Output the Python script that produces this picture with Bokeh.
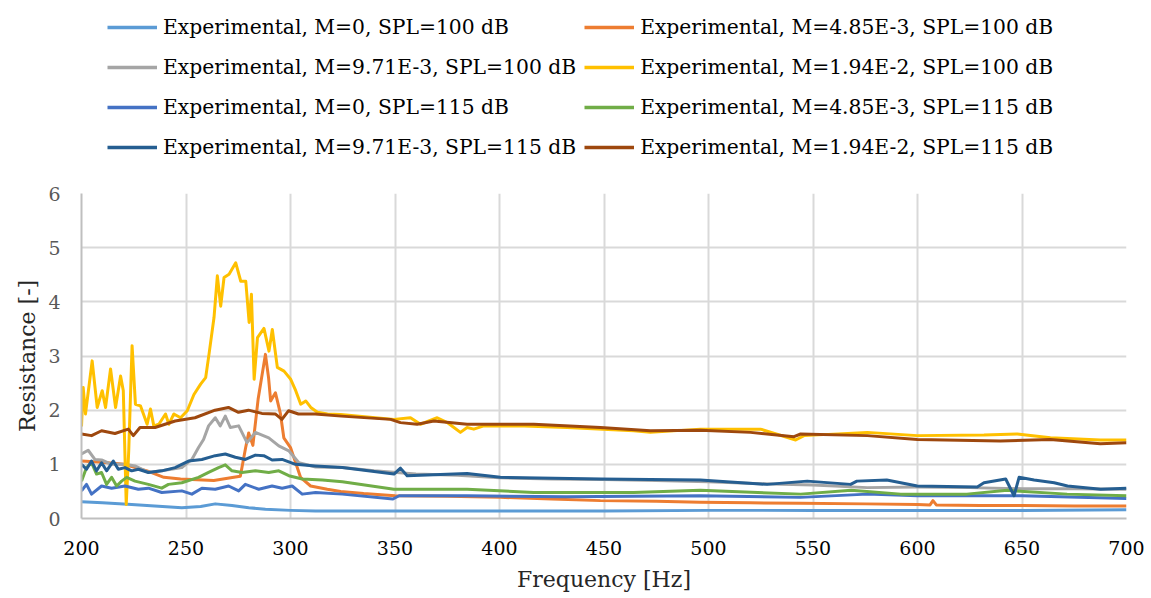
from bokeh.plotting import figure
from bokeh.layouts import column
from bokeh.models import Range1d, FixedTicker, Legend, LegendItem
from bokeh.embed import file_html
from bokeh.resources import INLINE

# ---------------- data ----------------
labels = [
    "Experimental, M=0, SPL=100 dB",
    "Experimental, M=4.85E-3, SPL=100 dB",
    "Experimental, M=9.71E-3, SPL=100 dB",
    "Experimental, M=1.94E-2, SPL=100 dB",
    "Experimental, M=0, SPL=115 dB",
    "Experimental, M=4.85E-3, SPL=115 dB",
    "Experimental, M=9.71E-3, SPL=115 dB",
    "Experimental, M=1.94E-2, SPL=115 dB",
]
colors = ["#5B9BD5", "#ED7D31", "#A5A5A5", "#FFC000",
          "#4472C4", "#70AD47", "#255E91", "#9E480E"]

f1 = [200, 210, 224, 235, 248, 257, 264, 272, 280, 288, 300, 312, 350, 400, 450, 500, 550, 600, 650, 700]
r1 = [0.31, 0.29, 0.26, 0.23, 0.20, 0.22, 0.27, 0.24, 0.20, 0.17, 0.15, 0.14, 0.14, 0.14, 0.14, 0.15, 0.15, 0.15, 0.15, 0.16]

f2 = [200, 210, 220.2, 231.4, 239.4, 247.4, 263.3, 272.9, 276, 278.5, 280, 282, 284.5, 288, 289.5, 290.5, 292.8, 295.2,
      296.8, 300, 304.8, 309.6, 317.6, 324, 335, 350, 375, 400.4, 425, 448.3, 475, 496, 520, 544, 575, 600, 606,
      607.4, 609, 630, 650, 675, 700]
r2 = [1.06, 1.04, 1.0, 0.88, 0.76, 0.73, 0.70, 0.76, 0.78, 1.30, 1.58, 1.35, 2.2, 3.03, 2.6, 2.17, 2.32, 1.93,
      1.49, 1.31, 0.76, 0.60, 0.54, 0.50, 0.46, 0.42, 0.41, 0.39, 0.36, 0.33, 0.32, 0.30, 0.29, 0.28, 0.27, 0.26, 0.25,
      0.33, 0.25, 0.24, 0.24, 0.23, 0.23]

f3 = [200, 203.2, 206.4, 209.6, 214.4, 220.8, 225.6, 232, 238.4, 248, 252.8, 256, 258.4, 260.8, 264, 266.4, 268.8,
      271.2, 275.2, 279.2, 283.2, 289.6, 294.4, 299.2, 304, 312, 324.8, 340, 360, 380, 400, 425, 450, 475, 500, 525,
      550, 576, 600, 625, 650, 675, 700]
r3 = [1.19, 1.26, 1.09, 1.08, 1.0, 1.0, 0.97, 0.85, 0.88, 0.94, 1.09, 1.31, 1.46, 1.71, 1.86, 1.71, 1.89,
      1.68, 1.71, 1.40, 1.59, 1.49, 1.34, 1.25, 1.03, 0.95, 0.94, 0.88, 0.82, 0.80, 0.75, 0.73, 0.72, 0.70, 0.68, 0.64,
      0.62, 0.57, 0.58, 0.57, 0.55, 0.55, 0.54]

f4 = [200, 200.8, 201.9, 205.1, 207.5, 209.9, 211.5, 213.9, 216.3, 218.7, 220, 221.4, 222.6, 224.2, 225.8, 228.2,
      231.4, 233, 234.6, 237, 240.2, 241.8, 244.2, 247.4, 250.6, 253.8, 257, 259.4, 261, 263.4, 265, 266.6, 268.2,
      270.6, 273.8, 276.2, 278.6, 280.2, 281.3, 282.6, 284.2, 287.3, 289.7, 291.3, 293.7, 296.9, 300.1, 302.5, 304.9,
      307.3, 309.7, 312.9, 317.7, 324, 349.5, 357.4, 362.2, 370.2, 375, 378.2, 381.3, 384.5, 387.7, 392.5, 408.4,
      432.3, 464.2, 472.2, 496.1, 524.9, 541.7, 545.7, 576, 599.9, 631.8, 647.7, 663.6, 687.5, 700]
r4 = [1.70, 2.42, 1.93, 2.91, 2.05, 2.36, 2.05, 2.76, 2.05, 2.63, 2.36, 0.26, 1.25, 3.19, 2.11, 2.08,
      1.74, 2.02, 1.71, 1.74, 1.93, 1.74, 1.93, 1.86, 1.99, 2.29, 2.48, 2.60, 3.03, 3.71, 4.48, 3.92, 4.45,
      4.51, 4.72, 4.38, 4.38, 3.62, 4.14, 2.57, 3.34, 3.51, 3.09, 3.49, 2.79, 2.72, 2.57, 2.36, 2.11,
      2.17, 2.05, 1.96, 1.93, 1.92, 1.83, 1.86, 1.74, 1.86, 1.77, 1.68, 1.59, 1.68, 1.65, 1.71, 1.71,
      1.68, 1.62, 1.59, 1.65, 1.65, 1.45, 1.53, 1.59, 1.53, 1.54, 1.56, 1.49, 1.45, 1.45]

f5 = [200, 202.4, 204.8, 209.6, 214.4, 220.8, 227.2, 232, 238.4, 248, 252.8, 257.6, 264, 270.4, 275.2, 278.4, 284.8,
      291.2, 296, 300.8, 305.6, 312, 324.8, 349, 352, 384.5, 432, 496, 544, 576, 600, 650, 700]
r5 = [0.51, 0.63, 0.45, 0.60, 0.56, 0.60, 0.54, 0.56, 0.48, 0.51, 0.45, 0.56, 0.54, 0.60, 0.51, 0.63, 0.54,
      0.60, 0.56, 0.60, 0.45, 0.48, 0.45, 0.36, 0.42, 0.42, 0.40, 0.42, 0.39, 0.45, 0.42, 0.42, 0.37]

f6 = [200, 202.4, 204.8, 207.2, 209.6, 212, 214.4, 216.8, 219.2, 221.6, 225.6, 232, 238.4, 241.6, 248, 256, 260.8,
      265.6, 268.8, 272, 276.8, 283.2, 289.6, 294.4, 299.2, 305.6, 315.2, 324.8, 349.5, 384.5, 416.4, 464.2, 496.1,
      544.1, 568.3, 592, 623.6, 643, 671.6, 700]
r6 = [0.69, 0.94, 1.03, 0.82, 0.85, 0.63, 0.76, 0.60, 0.69, 0.76, 0.69, 0.63, 0.56, 0.63, 0.66, 0.76, 0.85,
      0.94, 0.99, 0.88, 0.85, 0.88, 0.85, 0.88, 0.79, 0.73, 0.71, 0.68, 0.54, 0.54, 0.48, 0.48, 0.52,
      0.45, 0.52, 0.45, 0.45, 0.52, 0.45, 0.42]

f7 = [200, 202.4, 204.8, 207.2, 209.6, 212, 215.2, 217.6, 220.8, 224, 227.2, 232, 238.4, 244.8, 251.2, 257.6, 264,
      268.8, 273.6, 278.4, 283.2, 287.2, 291.2, 296, 302.4, 312, 324.8, 349.5, 352.6, 355.8, 384.5, 400.4, 448.3,
      496.1, 528, 547.2, 568, 571, 585.3, 599.9, 628.6, 631.8, 642.2, 646.2, 648.6, 655.8, 665.4, 671.8, 687.7, 700]
r7 = [1.0, 0.91, 1.06, 0.88, 1.03, 0.88, 1.06, 0.91, 0.94, 0.88, 0.91, 0.85, 0.88, 0.94, 1.06, 1.09, 1.16,
      1.19, 1.13, 1.09, 1.17, 1.16, 1.08, 1.09, 1.0, 0.97, 0.94, 0.82, 0.93, 0.79, 0.83, 0.76, 0.73,
      0.71, 0.63, 0.69, 0.63, 0.69, 0.71, 0.60, 0.58, 0.66, 0.73, 0.42, 0.76, 0.71, 0.66, 0.60, 0.54, 0.56]

f8 = [200, 204.8, 209.6, 216, 222.4, 224.8, 228, 235.2, 244.8, 254.3, 263.9, 270.3, 275.1, 279.9, 286.3, 292.7,
      295.9, 299.1, 303.8, 311.8, 324.3, 347.9, 352.6, 360.6, 368.6, 384.5, 416.4, 448.3, 472.2, 496.1, 520.1,
      540.9, 544.1, 576, 599.9, 639.7, 663.6, 687.5, 700]
r8 = [1.56, 1.53, 1.62, 1.57, 1.65, 1.53, 1.68, 1.68, 1.80, 1.86, 2.0, 2.05, 1.96, 2.0, 1.94, 1.93,
      1.83, 1.99, 1.93, 1.93, 1.89, 1.83, 1.77, 1.74, 1.80, 1.74, 1.74, 1.68, 1.62, 1.63, 1.59,
      1.51, 1.56, 1.53, 1.46, 1.43, 1.46, 1.38, 1.40]

freqs = [f1, f2, f3, f4, f5, f6, f7, f8]
vals = [r1, r2, r3, r4, r5, r6, r7, r8]

x_ticks = [200, 250, 300, 350, 400, 450, 500, 550, 600, 650, 700]
y_ticks = [0, 1, 2, 3, 4, 5, 6]

FONT = "DejaVu Serif"
W = 1151
LEG_H = 178
MAIN_H = 420

# ---------------- main chart ----------------
p = figure(width=W, height=MAIN_H, output_backend="svg", toolbar_location=None,
           x_range=Range1d(200, 700), y_range=Range1d(0, 6),
           min_border_left=81, min_border_right=25, min_border_bottom=80, min_border_top=15)
p.outline_line_color = None
p.background_fill_color = "white"

for f, r, c in zip(freqs, vals, colors):
    p.line(f, r, line_color=c, line_width=3, line_join="round")

for ax in (p.xaxis, p.yaxis):
    ax.major_tick_line_color = None
    ax.minor_tick_line_color = None
    ax.major_tick_out = 0
    ax.major_tick_in = 0
    ax.minor_tick_out = 0
    ax.minor_tick_in = 0
    ax.axis_line_color = "#BFBFBF"
    ax.axis_line_width = 2
    ax.major_label_text_font = FONT
    ax.major_label_text_font_size = "19px"
    ax.axis_label_text_font = FONT
    ax.axis_label_text_font_size = "22px"
    ax.axis_label_text_font_style = "normal"
    ax.axis_label_text_color = "#262626"
p.xaxis.ticker = FixedTicker(ticks=x_ticks)
p.yaxis.ticker = FixedTicker(ticks=y_ticks)
p.xaxis.major_label_text_color = "#000000"
p.yaxis.major_label_text_color = "#595959"
p.xaxis.major_label_standoff = 22
p.yaxis.major_label_standoff = 21
p.xaxis.axis_label = "Frequency [Hz]"
p.yaxis.axis_label = "Resistance [-]"
p.xaxis.axis_label_standoff = 9
p.yaxis.axis_label_standoff = 5

p.xgrid.ticker = FixedTicker(ticks=x_ticks)
p.ygrid.ticker = FixedTicker(ticks=y_ticks)
for g in (p.xgrid, p.ygrid):
    g.grid_line_color = "#D9D9D9"
    g.grid_line_width = 2

# ---------------- legend panel (same series, kept outside its visible range) ----------------
lf = figure(width=W, height=LEG_H, output_backend="svg", toolbar_location=None,
            x_axis_type=None, y_axis_type=None, x_range=Range1d(0, 1), y_range=Range1d(0, 1),
            min_border=0)
lf.outline_line_color = None
lf.grid.visible = False
leg_renderers = [lf.line(f, r, line_color=c, line_width=3.5) for f, r, c in zip(freqs, vals, colors)]

order = [0, 2, 4, 6, 1, 3, 5, 7]
items = [LegendItem(label=labels[i], renderers=[leg_renderers[i]]) for i in order]
legend = Legend(items=items, orientation="vertical", ncols=2,
                location=(26, 15), padding=0, margin=0, spacing=8,
                glyph_width=50, glyph_height=32, label_height=32, label_standoff=6,
                label_text_font=FONT, label_text_font_size="20.3px", label_text_color="#000000",
                border_line_color=None, background_fill_alpha=0)
lf.add_layout(legend, "center")

layout = column(lf, p, spacing=0)
html = file_html(layout, INLINE)
open("out.html", "w").write(html)
